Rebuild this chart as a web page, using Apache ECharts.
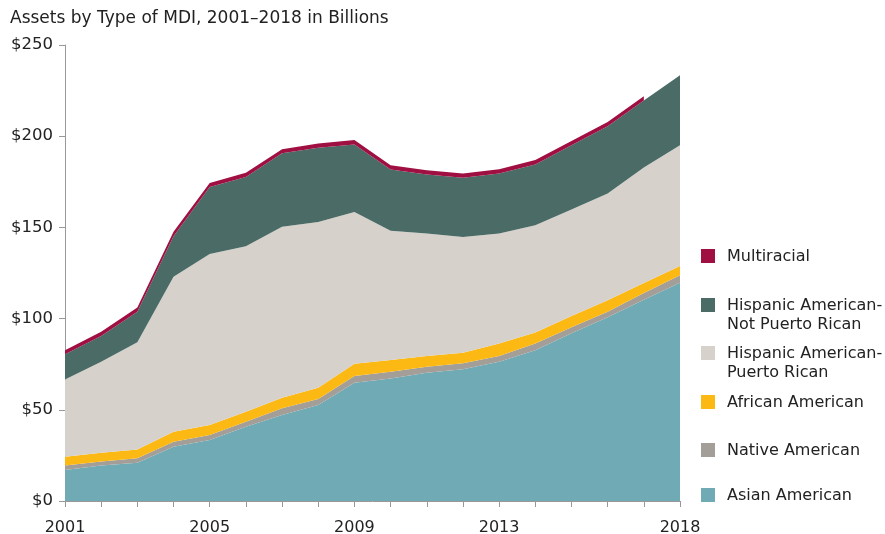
<!DOCTYPE html>
<html>
<head>
<meta charset="utf-8">
<script src="https://cdn.jsdelivr.net/npm/echarts@6/dist/echarts.min.js"></script>
<style>html,body{margin:0;padding:0;background:#fff}#c{width:885px;height:534px}</style>
</head>
<body>
<div id="c"></div>
<script>
const years = ['2001','2002','2003','2004','2005','2006','2007','2008','2009','2010','2011','2012','2013','2014','2015','2016','2017','2018'];
const shownYears = ['2001','2005','2009','2013','2018'];
const yTicks = [0, 50, 100, 150, 200, 250];

const asianAmerican   = [17.0,19.4,21.0,29.8,33.4,40.7,47.1,52.6,64.8,67.2,70.3,72.2,76.3,82.7,91.9,100.7,110.3,119.6];
const nativeAmerican  = [2.4,2.2,2.4,2.7,2.8,2.8,3.7,3.3,3.7,3.7,3.3,3.3,3.2,3.7,3.3,3.0,3.7,4.2];
const africanAmerican = [4.9,4.9,4.9,5.5,5.4,5.4,5.8,6.2,6.8,6.4,5.9,5.8,6.9,6.0,6.2,6.4,5.5,5.1];
const hispanicPR      = [42.3,49.8,58.7,84.9,93.8,90.8,93.7,90.9,83.2,70.8,67.2,63.5,60.3,58.8,58.4,58.5,63.3,66.1];
const hispanicNotPR   = [13.8,14.1,16.7,22.3,36.8,37.9,40.4,40.6,37.0,33.7,32.3,32.4,32.9,33.3,35.2,36.9,36.8,38.4];
const multiracial     = [2.3,2.4,2.4,2.4,2.2,2.3,2.2,2.4,2.4,2.3,2.4,2.4,2.3,2.4,2.4,2.3,2.3,null];

const seriesNames = ['Asian American','Native American','African American','Hispanic American-Puerto Rican','Hispanic American-Not Puerto Rican','Multiracial'];
const seriesData = [asianAmerican, nativeAmerican, africanAmerican, hispanicPR, hispanicNotPR, multiracial];
const colors = ['#70aab4','#a39e98','#fdb913','#d6d1cb','#4a6b66','#a00f42'];

// legend layout (top to bottom)
const legendItems = [
  {idx:5, lines:['Multiracial'], top:249},
  {idx:4, lines:['Hispanic American-','Not Puerto Rican'], top:298},
  {idx:3, lines:['Hispanic American-','Puerto Rican'], top:346},
  {idx:2, lines:['African American'], top:395},
  {idx:1, lines:['Native American'], top:443},
  {idx:0, lines:['Asian American'], top:488}
];

const font = '"DejaVu Sans", sans-serif';
const chart = echarts.init(document.getElementById('c'), null, {renderer:'canvas'});

const graphics = [{
  type:'text', left:10, top:10,
  style:{text:'Assets by Type of MDI, 2001\u20132018 in Billions', font:'17px ' + font, fill:'#222'}
}];
legendItems.forEach(it => {
  graphics.push({type:'rect', left:701, top:it.top, shape:{width:14,height:14}, style:{fill:colors[it.idx]}});
  graphics.push({type:'text', left:727, top:it.top - 2, style:{text:it.lines.join('\n'), font:'16px ' + font, fill:'#222', lineHeight:19}});
});

chart.setOption({
  animation:false,
  color: colors,
  grid:{left:65, right:205, top:45, bottom:33, containLabel:false, outerBoundsMode:'none'},
  graphic: graphics,
  xAxis:{
    type:'category', data:years, boundaryGap:false,
    axisLine:{lineStyle:{color:'#999', width:1}},
    axisTick:{show:true, interval:0, length:6, lineStyle:{color:'#999'}},
    axisLabel:{
      interval:(i, v) => shownYears.indexOf(v) >= 0,
      color:'#222', fontSize:16, fontFamily:font, margin:19
    },
    splitLine:{show:false}
  },
  yAxis:{
    type:'value', min:yTicks[0], max:yTicks[yTicks.length-1], interval:50,
    axisLine:{show:true, lineStyle:{color:'#999', width:1}},
    axisTick:{show:true, length:6, lineStyle:{color:'#999'}},
    axisLabel:{formatter:v => '$' + v, color:'#222', fontSize:16.5, fontFamily:font, margin:12},
    splitLine:{show:false}
  },
  series: seriesNames.map((n, i) => ({
    name:n, type:'line', stack:'total', data:seriesData[i],
    symbol:'none', lineStyle:{width:0}, areaStyle:{color:colors[i], opacity:1},
    itemStyle:{color:colors[i]}, z:2
  }))
});
</script>
</body>
</html>
